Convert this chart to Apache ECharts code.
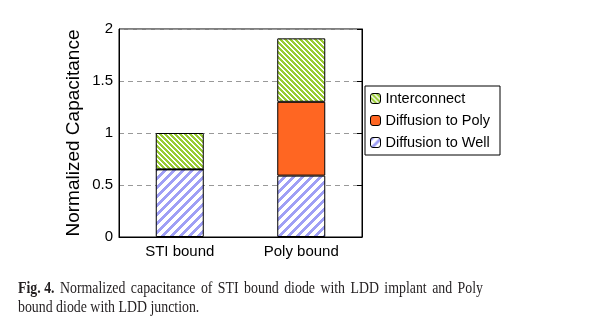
<!DOCTYPE html>
<html><head><meta charset="utf-8">
<script src="https://cdn.jsdelivr.net/npm/echarts@6/dist/echarts.min.js"></script>
<style>html,body{margin:0;padding:0;background:#fff}#c{width:593px;height:333px}</style>
</head><body><div id="c"></div>
<script>
// ---- data ----
var categories = ['STI bound', 'Poly bound'];
var diffusionToWell = [0.65, 0.59];
var diffusionToPoly = [0, 0.71];
var interconnect = [0.35, 0.61];
var yTicks = [0, 0.5, 1, 1.5, 2];
var yAxisName = 'Normalized Capacitance';
var captionBold = 'Fig. 4.';
var captionLine1 = 'Normalized capacitance of STI bound diode with LDD implant and Poly';
var captionLine2 = 'bound diode with LDD junction.';

// ---- patterns ----
function stripes(color, period, width, dir) {
  var c = document.createElement('canvas');
  c.width = period; c.height = period;
  var ctx = c.getContext('2d');
  ctx.fillStyle = '#fff'; ctx.fillRect(0, 0, period, period);
  ctx.fillStyle = color;
  for (var x = 0; x < period; x++) for (var y = 0; y < period; y++) {
    var v = dir > 0 ? (x + y) % period : ((x - y) % period + period) % period;
    if (v < width) ctx.fillRect(x, y, 1, 1);
  }
  return c;
}
var greenPat = { image: stripes('#99cc33', 5, 3, -1), repeat: 'repeat' };
var bluePat = { image: stripes('#9f9ff5', 9, 4, 1), repeat: 'repeat' };
var orange = '#ff6622';

var chart = echarts.init(document.getElementById('c'));
var F = "'Liberation Sans', Arial, sans-serif";
var base = { type: 'bar', stack: 's', barWidth: 48 };

chart.setOption({
  animation: false,
  grid: { left: 119, right: 231, top: 29, bottom: 96, show: true, borderColor: '#000', borderWidth: 1 },
  legend: {
    orient: 'vertical', left: 365, top: 86,
    data: ['Interconnect', 'Diffusion to Poly', 'Diffusion to Well'],
    borderColor: '#000', borderWidth: 1, backgroundColor: '#fff',
    padding: [5, 10, 5, 5], itemGap: 7, itemWidth: 10, itemHeight: 10,
    textStyle: { fontFamily: F, fontSize: 14.5, color: '#000', lineHeight: 15 },
    itemStyle: { borderColor: '#000', borderWidth: 1 }
  },
  xAxis: {
    type: 'category', data: categories,
    axisLine: { lineStyle: { color: '#000', width: 1 } },
    axisTick: { inside: true, length: 5, lineStyle: { color: '#000' } },
    axisLabel: { fontFamily: F, fontSize: 15, color: '#000', margin: 7 }
  },
  yAxis: [{
    type: 'value', min: yTicks[0], max: yTicks[yTicks.length - 1], interval: 0.5,
    name: yAxisName, nameLocation: 'middle', nameGap: 36,
    nameTextStyle: { fontFamily: F, fontSize: 19, color: '#000' },
    axisLine: { show: true, lineStyle: { color: '#000' } },
    axisTick: { show: false },
    splitLine: { lineStyle: { color: '#999', type: [5, 4], width: 1 } },
    axisLabel: { fontFamily: F, fontSize: 15, color: '#000', margin: 6 }
  }, {
    type: 'value', position: 'right', min: 0, max: 2, interval: 0.5,
    axisLine: { show: true, lineStyle: { color: '#000' } },
    axisTick: { show: true, inside: true, length: 5, lineStyle: { color: '#000' } },
    axisLabel: { show: false }, splitLine: { show: false }
  }],
  series: [
    Object.assign({}, base, { name: 'Diffusion to Well', data: diffusionToWell,
      itemStyle: { color: bluePat, borderColor: '#000', borderWidth: 1 } }),
    Object.assign({}, base, { name: 'Diffusion to Poly', data: diffusionToPoly,
      itemStyle: { color: orange, borderColor: '#000', borderWidth: 1 } }),
    Object.assign({}, base, { name: 'Interconnect', data: interconnect,
      itemStyle: { color: greenPat, borderColor: '#000', borderWidth: 1 } })
  ]
});

// ---- caption (justified line 1, condensed serif) ----
var CF = "'Liberation Serif', serif";
var capSize = 16.5;
var sx = 0.84;
var mc = document.createElement('canvas').getContext('2d');
function fnt(bold) { return (bold ? 'bold ' : '') + capSize + 'px ' + CF; }
function w(t, bold) { mc.font = fnt(bold); return mc.measureText(t).width * sx; }
var l1words = captionLine1.split(' ');
var words = [captionBold].concat(l1words);
var boldFlags = [true].concat(l1words.map(function () { return false; }));
var x0 = 18, x1 = 483;
var total = 0; words.forEach(function (t, i) { total += w(t, boldFlags[i]); });
var gap = (x1 - x0 - total) / (words.length - 1);
var els = []; var cx = x0;
words.forEach(function (t, i) {
  els.push({ type: 'text', x: cx, y: 280, scaleX: sx, style: { text: t, font: fnt(boldFlags[i]), fill: '#231f20' } });
  cx += w(t, boldFlags[i]) + gap;
});
els.push({ type: 'text', x: x0, y: 299, scaleX: sx, style: { text: captionLine2, font: fnt(false), fill: '#231f20' } });
chart.setOption({ graphic: els });
</script></body></html>
